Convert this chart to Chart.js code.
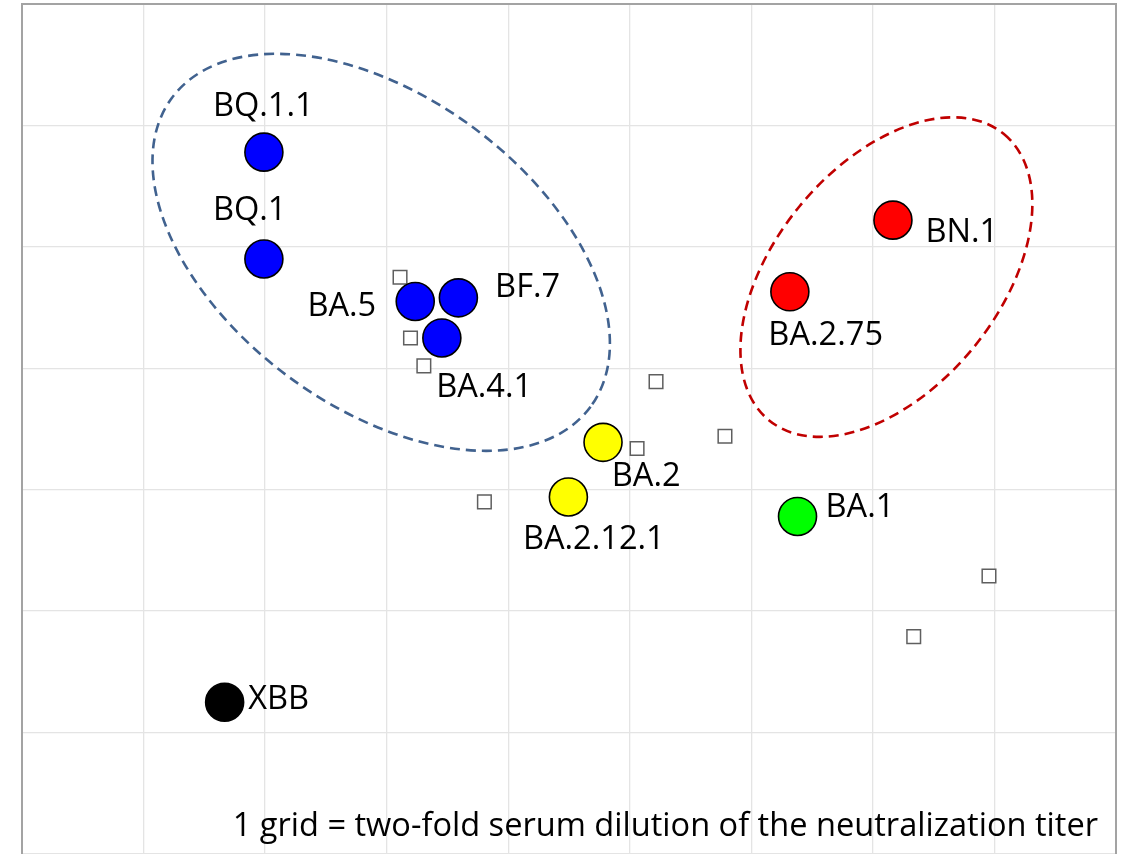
<!DOCTYPE html>
<html>
<head>
<meta charset="utf-8">
<script src="https://cdn.jsdelivr.net/npm/chart.js@4.4.0/dist/chart.umd.min.js"></script>
<style>
  html, body { margin: 0; padding: 0; background: #ffffff; }
  canvas { display: block; }
</style>
</head>
<body>
<canvas id="c" width="1123" height="854"></canvas>
<script>
// ---- Data (antigenic map coordinates, 1 unit = 1 grid = two-fold dilution) ----
const variantNames = ['BQ.1.1', 'BQ.1', 'BA.5', 'BF.7', 'BA.4.1', 'BA.2', 'BA.2.12.1', 'BA.1', 'BA.2.75', 'BN.1', 'XBB'];
const variantX = [1.99, 1.99, 3.235, 3.59, 3.454, 4.78, 4.495, 6.38, 6.317, 7.165, 1.667];
const variantY = [5.78, 4.90, 4.55, 4.58, 4.25, 3.39, 2.94, 2.78, 4.63, 5.22, 1.25];

const seraX = [3.11, 3.196, 3.306, 5.216, 5.06, 5.783, 3.804, 7.955, 7.336];
const seraY = [4.75, 4.25, 4.02, 3.89, 3.34, 3.44, 2.90, 2.29, 1.79];

// cluster ellipses: centre x, centre y, semi-major, semi-minor (grid units), rotation (deg)
const clusterCenterX = [2.955, 7.111];
const clusterCenterY = [4.955, 4.751];
const clusterSemiA = [2.14, 1.523];
const clusterSemiB = [1.276, 0.922];
const clusterAngle = [36.4, -50.6];

const gridXMax = 9;
const gridYMax = 7;
const noteText = '1 grid = two-fold serum dilution of the neutralization titer';

// ---- Styles ----
const variantColors = ['#0000ff', '#0000ff', '#0000ff', '#0000ff', '#0000ff', '#ffff00', '#ffff00', '#00ff00', '#ff0000', '#ff0000', '#000000'];
// label offsets from the point centre in px: [dx, dy(baseline), align]
const labelOffsets = [
  [-51, -36, 'left'], [-51, -39.5, 'left'], [-39, 14.3, 'right'], [36.7, -0.8, 'left'],
  [-5.7, 59, 'left'], [8.7, 43.3, 'left'], [-45.5, 52, 'left'], [28, 0.4, 'left'],
  [-21.5, 53, 'left'], [32.5, 21.7, 'left'], [23.5, 6.5, 'left']
];
const clusterColors = ['#41628f', '#c00000'];
const FONT = '32.6px "Open Sans", Lato, sans-serif';

const variantPoints = variantX.map((x, i) => ({ x, y: variantY[i] }));
const seraPoints = seraX.map((x, i) => ({ x, y: seraY[i] }));

const overlayPlugin = {
  id: 'overlay',
  beforeDatasetsDraw(chart) {
    const { ctx, scales: { x, y } } = chart;
    ctx.save();
    for (let i = 0; i < clusterCenterX.length; i++) {
      const cx = x.getPixelForValue(clusterCenterX[i]);
      const cy = y.getPixelForValue(clusterCenterY[i]);
      const pxPerUnit = x.getPixelForValue(1) - x.getPixelForValue(0);
      ctx.beginPath();
      ctx.ellipse(cx, cy, clusterSemiA[i] * pxPerUnit, clusterSemiB[i] * pxPerUnit,
        clusterAngle[i] * Math.PI / 180, 0, Math.PI * 2);
      ctx.strokeStyle = clusterColors[i];
      ctx.lineWidth = 2.6;
      ctx.setLineDash([10, 6]);
      ctx.stroke();
    }
    ctx.restore();
  },
  afterDatasetsDraw(chart) {
    const { ctx, chartArea, scales: { x, y } } = chart;
    ctx.save();
    ctx.fillStyle = '#000000';
    ctx.font = FONT;
    ctx.textBaseline = 'alphabetic';
    variantNames.forEach((name, i) => {
      const px = x.getPixelForValue(variantX[i]);
      const py = y.getPixelForValue(variantY[i]);
      const [dx, dy, align] = labelOffsets[i];
      ctx.textAlign = align;
      ctx.fillText(name, px + dx, py + dy);
    });
    ctx.textAlign = 'right';
    ctx.fillText(noteText, 1098, 836);
    // frame (left, top, right)
    ctx.strokeStyle = '#a3a3a3';
    ctx.lineWidth = 2;
    ctx.setLineDash([]);
    ctx.beginPath();
    ctx.moveTo(chartArea.left, chartArea.bottom + 2);
    ctx.lineTo(chartArea.left, chartArea.top);
    ctx.lineTo(chartArea.right, chartArea.top);
    ctx.lineTo(chartArea.right, chartArea.bottom + 2);
    ctx.stroke();
    ctx.restore();
  }
};

function zeroFit(scale) {
  if (scale.isHorizontal()) { scale.height = 0; } else { scale.width = 0; }
  scale.paddingTop = 0; scale.paddingBottom = 0; scale.paddingLeft = 0; scale.paddingRight = 0;
}

new Chart(document.getElementById('c'), {
  type: 'scatter',
  data: {
    datasets: [
      {
        label: 'Variants',
        data: variantPoints,
        pointStyle: 'circle',
        pointRadius: 19,
        pointHoverRadius: 19,
        pointBackgroundColor: variantColors,
        pointBorderColor: '#000000',
        pointBorderWidth: 1.6,
        showLine: false
      },
      {
        label: 'Sera',
        data: seraPoints,
        pointStyle: 'rect',
        pointRadius: 9.6,
        pointHoverRadius: 9.6,
        pointBackgroundColor: '#ffffff',
        pointBorderColor: '#5f5f5f',
        pointBorderWidth: 1.5,
        showLine: false
      }
    ]
  },
  options: {
    responsive: false,
    animation: false,
    events: [],
    layout: { autoPadding: false, padding: { left: 22, top: 4, right: 7, bottom: 0 } },
    plugins: { legend: { display: false }, tooltip: { enabled: false } },
    scales: {
      x: {
        type: 'linear', min: 0, max: gridXMax,
        ticks: { display: false, stepSize: 1 },
        grid: { color: '#e4e4e4', lineWidth: 1.3, drawTicks: false },
        border: { display: false },
        afterFit: zeroFit
      },
      y: {
        type: 'linear', min: 0, max: gridYMax,
        ticks: { display: false, stepSize: 1 },
        grid: { color: '#e4e4e4', lineWidth: 1.3, drawTicks: false },
        border: { display: false },
        afterFit: zeroFit
      }
    }
  },
  plugins: [overlayPlugin]
});
</script>
</body>
</html>
